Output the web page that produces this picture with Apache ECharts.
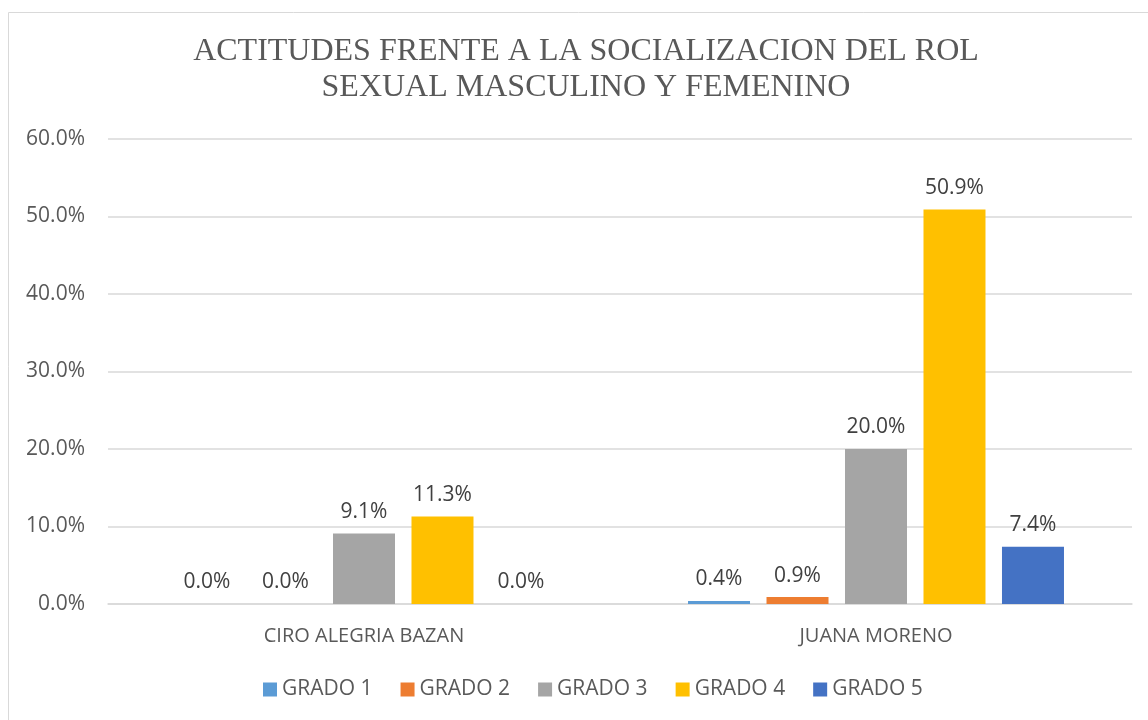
<!DOCTYPE html>
<html>
<head>
<meta charset="utf-8">
<script src="https://cdn.jsdelivr.net/npm/echarts@6/dist/echarts.min.js"></script>
<style>
  html, body { margin: 0; padding: 0; background: #fff; }
  #chart { width: 1148px; height: 720px; }
</style>
</head>
<body>
<div id="chart"></div>
<script>
// datos del grafico
const categories = ['CIRO ALEGRIA BAZAN', 'JUANA MORENO']
const seriesNames = ['GRADO 1', 'GRADO 2', 'GRADO 3', 'GRADO 4', 'GRADO 5']
const grado1 = [0.0, 0.4]
const grado2 = [0.0, 0.9]
const grado3 = [9.1, 20.0]
const grado4 = [11.3, 50.9]
const grado5 = [0.0, 7.4]
const colors = ['#5B9BD5', '#ED7D31', '#A5A5A5', '#FFC000', '#4472C4']

const values = [grado1, grado2, grado3, grado4, grado5]

let chart = echarts.init(document.getElementById('chart'))

let option = {
  animation: false,
  color: colors,
  graphic: [
    {
      type: 'rect',
      shape: { x: 8.5, y: 12.5, width: 1200, height: 800 },
      style: { fill: 'none', stroke: '#d9d9d9', lineWidth: 1 },
      silent: true
    }
  ],
  title: {
    text: 'ACTITUDES FRENTE A LA SOCIALIZACION DEL ROL\nSEXUAL MASCULINO Y FEMENINO',
    left: 586,
    textAlign: 'center',
    top: 34,
    padding: 0,
    textStyle: {
      fontFamily: 'Liberation Serif',
      fontWeight: 'normal',
      fontSize: 32,
      lineHeight: 36,
      color: '#595959'
    }
  },
  legend: {
    data: seriesNames,
    bottom: 15,
    left: 258,
    itemWidth: 14,
    itemHeight: 14,
    itemGap: 28,
    icon: 'rect',
    textStyle: { fontFamily: 'Open Sans', fontSize: 21, color: '#595959' }
  },
  grid: {
    left: 108,
    right: 16,
    top: 139,
    bottom: 116,
    containLabel: false
  },
  xAxis: {
    type: 'category',
    data: categories,
    axisTick: { show: false },
    axisLine: { lineStyle: { color: '#d9d9d9', width: 1.5 } },
    axisLabel: { margin: 22, fontFamily: 'Open Sans', fontSize: 20, color: '#595959' }
  },
  yAxis: {
    type: 'value',
    min: 0,
    max: 60,
    interval: 10,
    axisLine: { show: false },
    axisTick: { show: false },
    splitLine: { lineStyle: { color: '#d9d9d9', width: 1.5 } },
    axisLabel: {
      margin: 23,
      fontFamily: 'Open Sans',
      fontSize: 21,
      color: '#595959',
      formatter: v => v.toFixed(1) + '%'
    }
  },
  series: seriesNames.map((name, i) => ({
    name: name,
    type: 'bar',
    data: values[i],
    barWidth: 62,
    barGap: '26.6%',
    label: {
      show: true,
      position: 'top',
      distance: 11,
      fontFamily: 'Open Sans',
      fontSize: 21,
      color: '#404040',
      formatter: p => p.value.toFixed(1) + '%'
    }
  }))
}

chart.setOption(option)
</script>
</body>
</html>
